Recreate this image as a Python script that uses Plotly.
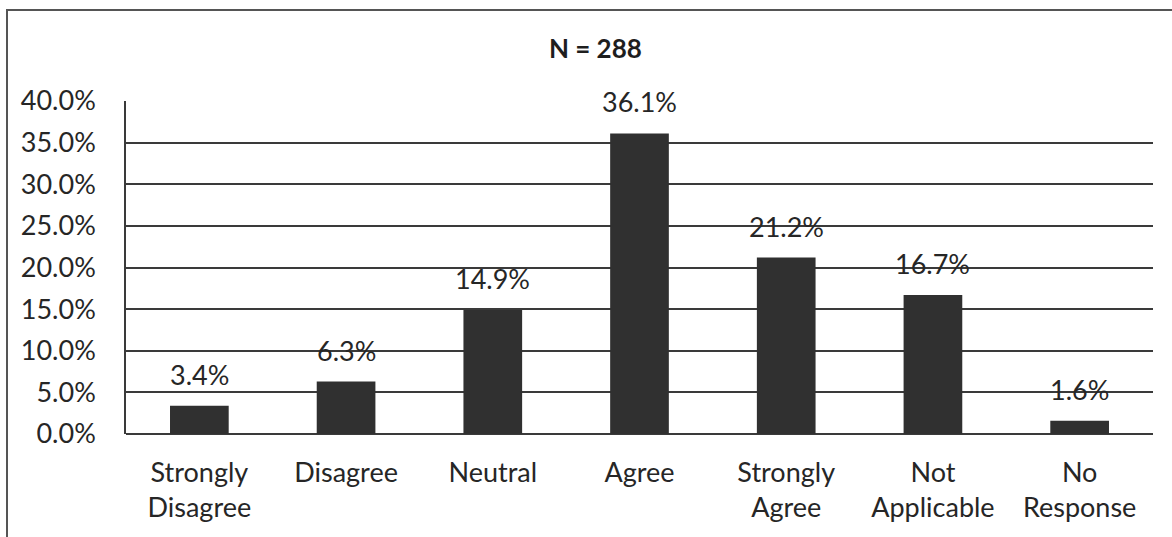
import plotly.graph_objects as go

# Survey response distribution
categories = ["Strongly<br>Disagree", "Disagree", "Neutral", "Agree",
              "Strongly<br>Agree", "Not<br>Applicable", "No<br>Response"]
percentages = [3.4, 6.3, 14.9, 36.1, 21.2, 16.7, 1.6]
y_tick_values = [0, 5, 10, 15, 20, 25, 30, 35, 40]
y_tick_labels = [f"{v:.1f}%" for v in y_tick_values]
title_text = "N = 288"

FONT = "Lato, 'Open Sans', Arial, sans-serif"
INK = "#262626"

fig = go.Figure()
fig.add_trace(go.Bar(
    x=categories,
    y=percentages,
    marker=dict(color="#303030", line=dict(width=0)),
    hoverinfo="x+y",
))

# value labels above each bar
for cat, val in zip(categories, percentages):
    fig.add_annotation(
        x=cat, y=val, text=f"{val:.1f}%",
        showarrow=False, yanchor="bottom", yshift=13,
        font=dict(family=FONT, size=27, color=INK),
    )

fig.update_layout(
    width=1172, height=537,
    margin=dict(l=126, r=19, t=101, b=103),
    paper_bgcolor="white", plot_bgcolor="white",
    bargap=0.6,
    showlegend=False,
    title=dict(text=f"<b>{title_text}</b>", x=0.508, xanchor="center",
               y=1 - 49 / 537, yanchor="middle",
               font=dict(family=FONT, size=26, color="#1e1e1e")),
    font=dict(family=FONT, size=27, color=INK),
    xaxis=dict(
        showgrid=False, showline=False, ticks="",
        tickfont=dict(family=FONT, size=27, color=INK),
        ticklabelstandoff=20,
    ),
    yaxis=dict(
        range=[0, 40], tickvals=y_tick_values, ticktext=y_tick_labels,
        showgrid=True, gridcolor="#3a3a3a", gridwidth=1.6,
        showline=True, linecolor="#3a3a3a", linewidth=1.6,
        zeroline=True, zerolinecolor="#3a3a3a", zerolinewidth=1.6,
        ticks="", ticklabelstandoff=23,
        tickfont=dict(family=FONT, size=27, color=INK),
    ),
    shapes=[dict(
        type="rect", xref="paper", yref="paper",
        x0=(7 - 126) / 1027, x1=(1185 - 126) / 1027,
        y0=(434 - 560) / 333, y1=(434 - 10) / 333,
        line=dict(color="#555555", width=2), fillcolor="rgba(0,0,0,0)",
        layer="above",
    )],
)

fig.write_html("out.html")
